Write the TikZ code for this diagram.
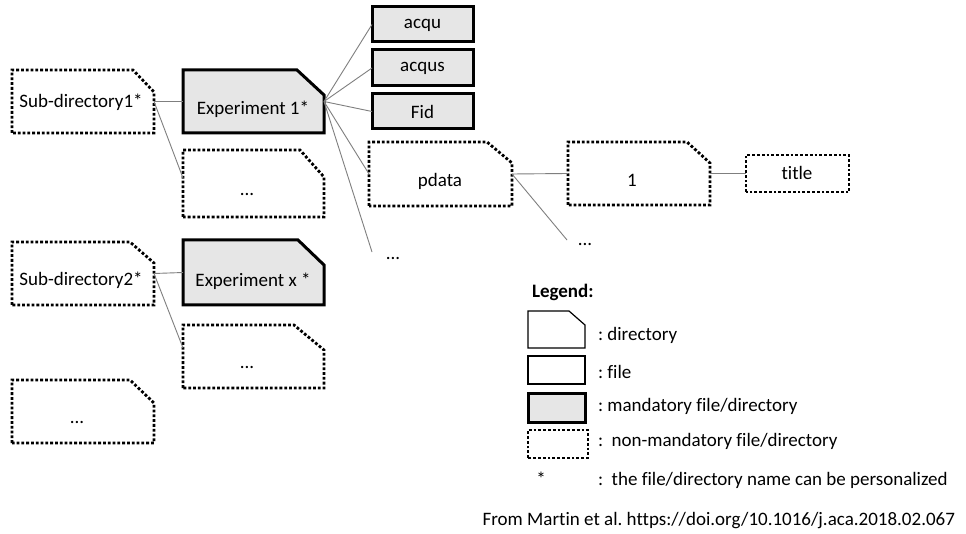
\documentclass[tikz,border=0pt]{standalone}
\usepackage{fontspec}
\setmainfont{Carlito}[Ligatures=NoCommon]
\definecolor{mandfill}{HTML}{E6E6E6}
\definecolor{connc}{HTML}{7F7F7F}
\newcommand\cutbox[4]{\path[#1] (#2.south west) -- (#2.north west) -- ([xshift=-#3pt]#2.north east) -- ([yshift=-#4pt]#2.north east) -- (#2.south east) -- cycle;}
\newcommand\sqbox[2]{\path[#1] (#2.south west) rectangle (#2.north east);}
\frenchspacing
\begin{document}
\begin{tikzpicture}[x=1pt,y=-1pt,
  geo/.style={inner sep=0pt,outer sep=0pt,draw=none},
  txt/.style={inner sep=0pt,outer sep=0pt,font=\fontsize{19}{22}\selectfont},
  mand/.style={draw=black,line width=3pt,fill=mandfill},
  nonm/.style={draw=black,line width=2.8pt,dash pattern=on 2.8pt off 2pt},
  plainb/.style={draw=black,line width=1.2pt},
  conn/.style={draw=connc,line width=0.9pt}]
\useasboundingbox[fill=white] (0,0) rectangle (966,534);

% geometry nodes
\node[geo,minimum width=142pt,minimum height=63pt] (sub1) at (83,101.5) {};
\node[geo,minimum width=141pt,minimum height=63pt] (exp1) at (253.5,101.5) {};
\node[geo,minimum width=141pt,minimum height=67pt] (d1) at (253.5,183.5) {};
\node[geo,minimum width=101pt,minimum height=35pt] (acqu) at (422.5,24.5) {};
\node[geo,minimum width=101pt,minimum height=36pt] (acqus) at (422.5,68) {};
\node[geo,minimum width=101pt,minimum height=35pt] (fid) at (422.5,111.5) {};
\node[geo,minimum width=143pt,minimum height=64pt] (pdata) at (440.5,174) {};
\node[geo,minimum width=142pt,minimum height=63pt] (one) at (639,173.5) {};
\node[geo,minimum width=103pt,minimum height=37pt] (title) at (797.5,173.5) {};
\node[geo,minimum width=142pt,minimum height=63pt] (sub2) at (83,273.5) {};
\node[geo,minimum width=141pt,minimum height=65pt] (expx) at (253.5,272.5) {};
\node[geo,minimum width=141pt,minimum height=63pt] (d2) at (253.5,356.5) {};
\node[geo,minimum width=142pt,minimum height=63pt] (d3) at (83,411.5) {};
% legend icons
\node[geo,minimum width=57pt,minimum height=37pt] (ldir) at (556.5,329.5) {};
\node[geo,minimum width=57pt,minimum height=28pt] (lfile) at (556.5,370) {};
\node[geo,minimum width=57pt,minimum height=29pt] (lmand) at (556.5,407.5) {};
\node[geo,minimum width=60pt,minimum height=28pt] (lnon) at (558,444) {};

% shapes
\cutbox{nonm}{sub1}{21}{22}
\cutbox{mand}{exp1}{27}{25}
\cutbox{nonm}{d1}{24}{27}
\sqbox{mand}{acqu}
\sqbox{mand}{acqus}
\sqbox{mand}{fid}
\cutbox{nonm}{pdata}{25}{21}
\cutbox{nonm}{one}{23}{21}
\sqbox{nonm}{title}
\cutbox{nonm}{sub2}{24}{21}
\cutbox{mand}{expx}{26}{25}
\cutbox{nonm}{d2}{30}{25}
\cutbox{nonm}{d3}{24}{23}
\cutbox{plainb}{ldir}{16}{14}
\sqbox{plainb}{lfile}
\sqbox{mand}{lmand}
\sqbox{nonm}{lnon}

% texts
\node[txt] (sub1t) at (81,102) {Sub-directory1*};
\node[txt] (exp1t) at (253,109) {Experiment 1*};
\node[txt] (d1t) at (247,195) {...};
\node[txt] (acqut) at (422.5,25) {acqu};
\node[txt] (acqust) at (422.5,68) {acqus};
\node[txt] (fidt) at (422.5,112) {Fid};
\node[txt] (pdatat) at (440,181) {pdata};
\node[txt] (onet) at (632,180) {1};
\node[txt] (titlet) at (797,173) {title};
\node[txt] (dotsA) at (393,258) {...};
\node[txt] (dotsB) at (585,244) {...};
\node[txt] (sub2t) at (81,280) {Sub-directory2*};
\node[txt] (expxt) at (253,281) {Experiment x *};
\node[txt] (d2t) at (247,367) {...};
\node[txt] (d3t) at (77,422) {...};

% legend texts
\node[txt,anchor=west,font=\fontsize{19}{22}\selectfont\bfseries] (legt) at (532,292) {Legend:};
\node[txt,anchor=west] (l1) at (598,335) {: directory};
\node[txt,anchor=west] (l2) at (598,372) {: file};
\node[txt,anchor=west] (l3) at (598,406) {: mandatory file/directory};
\node[txt,anchor=west] (l4) at (598,441) {:\ \ non-mandatory file/directory};
\node[txt,anchor=west] (l5) at (598,480) {:\ \ the file/directory name can be personalized};
\node[txt,anchor=base] (star) at (541,485) {*};
\node[txt,anchor=east] (foot) at (955,521) {From Martin et al. https://doi.org/10.1016/j.aca.2018.02.067};

% connectors
\coordinate (dotsAend) at (372,252);
\coordinate (dotsBend) at (567,240);
\draw[conn] (sub1.east) -- (exp1.west);
\draw[conn] (sub1.east) -- ([yshift=5.5pt]d1.west);
\draw[conn] (exp1.east) -- (acqu.west);
\draw[conn] (exp1.east) -- (acqus.west);
\draw[conn] (exp1.east) -- (fid.west);
\draw[conn] (exp1.east) -- (pdata.west);
\draw[conn] (exp1.east) -- (dotsAend);
\draw[conn] (pdata.east) -- (one.west);
\draw[conn] (pdata.east) -- (dotsBend);
\draw[conn] (one.east) -- (title.west);
\draw[conn] (sub2.east) -- (expx.west);
\draw[conn] (sub2.east) -- ([yshift=8.5pt]d2.west);
\end{tikzpicture}
\end{document}
